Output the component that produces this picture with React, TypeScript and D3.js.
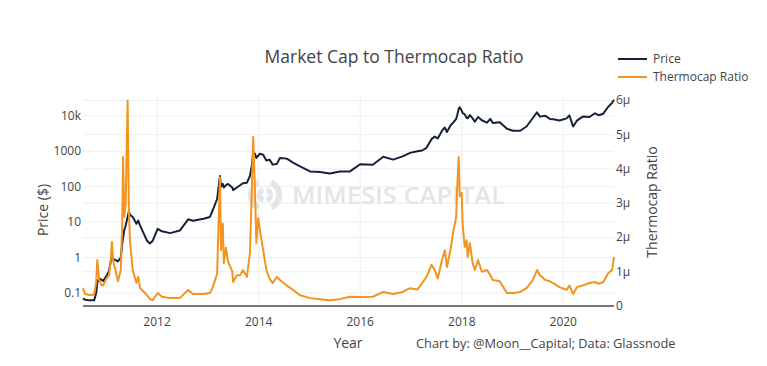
import React from 'react';
import * as d3 from 'd3';

// sample dates (irregular, denser around the spikes)
const dates = [
  '2010-07-17', '2010-08-01', '2010-09-01', '2010-10-05', '2010-10-20', '2010-10-28', '2010-11-10', '2010-11-25',
  '2010-12-10', '2011-01-01', '2011-01-20', '2011-02-01', '2011-02-10', '2011-02-20', '2011-03-10', '2011-03-25',
  '2011-04-15', '2011-04-25', '2011-05-01', '2011-05-10', '2011-05-20', '2011-06-03', '2011-06-12', '2011-06-20',
  '2011-07-10', '2011-08-05', '2011-08-18', '2011-09-01', '2011-10-20', '2011-11-10', '2011-12-01', '2012-01-05',
  '2012-02-05', '2012-04-05', '2012-06-12', '2012-08-12', '2012-09-15', '2012-11-30', '2013-01-15', '2013-02-05',
  '2013-03-08', '2013-03-28', '2013-04-05', '2013-04-18', '2013-04-25', '2013-05-10', '2013-05-25', '2013-06-25',
  '2013-07-01', '2013-07-28', '2013-08-20', '2013-09-10', '2013-10-08', '2013-10-30', '2013-11-13', '2013-11-22',
  '2013-12-05', '2013-12-15', '2013-12-28', '2014-01-10', '2014-02-02', '2014-02-25', '2014-03-20', '2014-04-12',
  '2014-05-12', '2014-06-03', '2014-07-22', '2014-09-05', '2014-10-22', '2015-01-05', '2015-03-18', '2015-05-28',
  '2015-08-08', '2015-10-20', '2016-01-01', '2016-04-01', '2016-06-15', '2016-08-25', '2016-11-01', '2016-12-25',
  '2017-02-15', '2017-03-22', '2017-04-22', '2017-05-28', '2017-06-20', '2017-07-12', '2017-08-12', '2017-09-01',
  '2017-09-16', '2017-10-15', '2017-10-30', '2017-11-22', '2017-11-28', '2017-12-10', '2017-12-17', '2017-12-31',
  '2018-01-07', '2018-01-22', '2018-02-05', '2018-02-12', '2018-02-28', '2018-03-20', '2018-04-05', '2018-04-28',
  '2018-05-25', '2018-07-01', '2018-07-25', '2018-08-12', '2018-10-01', '2018-11-22', '2019-01-05', '2019-02-25',
  '2019-04-12', '2019-05-27', '2019-06-26', '2019-07-17', '2019-08-25', '2019-09-27', '2019-10-20', '2019-12-05',
  '2020-01-25', '2020-02-14', '2020-03-12', '2020-04-08', '2020-05-20', '2020-07-08', '2020-08-15', '2020-09-12',
  '2020-10-15', '2020-11-18', '2020-12-17', '2020-12-31',
];

// BTC price, USD
const priceUsd = [
  0.07, 0.065, 0.062, 0.062, 0.1, 0.2, 0.26, 0.24,
  0.22, 0.3, 0.42, 0.75, 1.0, 0.9, 0.85, 0.78,
  1.0, 2.5, 3.5, 6, 8, 14, 20, 16,
  14, 9, 11, 8, 3, 2.5, 3, 6.5,
  5.5, 4.9, 5.8, 12, 11, 12.5, 14, 22,
  45, 200, 100, 120, 95, 110, 120, 95,
  80, 95, 110, 125, 130, 200, 400, 900,
  850, 650, 750, 850, 800, 550, 580, 420,
  440, 650, 620, 480, 380, 270, 260, 235,
  270, 270, 430, 415, 700, 580, 720, 900,
  1000, 1050, 1250, 2200, 2600, 2300, 3800, 4700,
  3500, 5600, 6300, 8200, 10000, 16000, 17500, 14000,
  12000, 11000, 8800, 8500, 10500, 8500, 6800, 9300,
  7500, 6400, 8200, 6300, 6600, 4300, 3800, 3800,
  5000, 8700, 12500, 9500, 10000, 8200, 8000, 7400,
  8500, 10300, 5000, 7300, 9500, 9300, 11800, 10400,
  11500, 17800, 23000, 28500,
];

// market cap / thermocap, in millionths (μ)
const thermocapRatio = [
  0.52, 0.35, 0.32, 0.33, 0.7, 1.34, 0.78, 0.62,
  0.6, 0.8, 0.9, 1.3, 1.87, 1.3, 1.0, 0.72,
  1.05, 2.4, 4.35, 2.6, 3.0, 6.0, 2.8, 1.9,
  1.05, 0.67, 0.85, 0.52, 0.32, 0.2, 0.17, 0.38,
  0.27, 0.23, 0.23, 0.47, 0.35, 0.35, 0.38, 0.55,
  0.95, 3.76, 1.63, 2.4, 1.25, 1.7, 1.3, 1.0,
  0.7, 0.9, 0.9, 1.05, 0.85, 1.55, 3.4, 4.93,
  3.4, 1.84, 2.57, 2.2, 1.63, 1.05, 0.8, 0.67,
  0.85, 0.76, 0.6, 0.47, 0.32, 0.23, 0.2, 0.17,
  0.2, 0.27, 0.26, 0.27, 0.41, 0.35, 0.41, 0.52,
  0.48, 0.67, 0.85, 1.2, 1.05, 0.8, 1.34, 1.63,
  1.14, 1.72, 2.13, 2.6, 3.38, 4.35, 3.2, 3.3,
  2.4, 1.72, 1.92, 1.43, 1.84, 1.25, 1.05, 1.34,
  1.0, 1.05, 0.9, 0.76, 0.72, 0.38, 0.38, 0.41,
  0.52, 0.76, 1.05, 0.9, 0.76, 0.72, 0.67, 0.55,
  0.47, 0.6, 0.35, 0.55, 0.6, 0.67, 0.7, 0.65,
  0.7, 0.95, 1.05, 1.43,
];

const priceTicks = [0.1, 1, 10, 100, 1000, 10000];
const priceTickLabels = ['0.1', '1', '10', '100', '1000', '10k'];
const ratioTicks = [0, 1, 2, 3, 4, 5, 6];
const yearTicks = [2012, 2014, 2016, 2018, 2020];

const W = 767;
const H = 366;
const m = { left: 83, right: 614, top: 97, bottom: 306 };
const font = '"Open Sans", "DejaVu Sans", sans-serif';
const priceColor = '#16213a';
const ratioColor = '#f2941f';

export default function App() {
  const parse = d3.timeParse('%Y-%m-%d');
  const t = dates.map(d => parse(d) as Date);

  const x = d3.scaleTime().domain(d3.extent(t) as [Date, Date]).range([m.left, m.right]);
  const yP = d3.scaleLog().domain([0.043, 34000]).range([m.bottom, m.top]);
  const yR = d3.scaleLinear().domain([0, 6.1]).range([m.bottom, m.top]);

  const priceLine = d3.line<number>()
    .x((_, i) => x(t[i]))
    .y(d => yP(d));
  const ratioLine = d3.line<number>()
    .x((_, i) => x(t[i]))
    .y(d => yR(d));

  const logoArc = d3.arc();

  return (
    <div style={{ position: 'absolute', left: 0, top: 0 }}>
      <svg width={W} height={H} style={{ display: 'block', background: '#fff' }} fontFamily={font}>
        {/* grid */}
        <g stroke="#eeeeee" strokeWidth={1}>
          {yearTicks.map(yr => {
            const xx = x(new Date(yr, 0, 1));
            return <line key={'v' + yr} x1={xx} x2={xx} y1={m.top} y2={m.bottom} />;
          })}
          {priceTicks.map(v => (
            <line key={'p' + v} x1={m.left} x2={m.right} y1={yP(v)} y2={yP(v)} />
          ))}
          {ratioTicks.filter(v => v > 0).map(v => (
            <line key={'r' + v} x1={m.left} x2={m.right} y1={yR(v)} y2={yR(v)} />
          ))}
        </g>

        {/* watermark */}
        <g fill="#e3e5e9">
          <path transform="translate(265,195)" d={logoArc({ innerRadius: 11, outerRadius: 17, startAngle: Math.PI * 0.15, endAngle: Math.PI * 0.85 }) || ''} />
          <path transform="translate(265,195)" d={logoArc({ innerRadius: 11, outerRadius: 17, startAngle: Math.PI * 1.15, endAngle: Math.PI * 1.85 }) || ''} />
          <path transform="translate(265,195)" d={logoArc({ innerRadius: 3, outerRadius: 8, startAngle: Math.PI * 1.1, endAngle: Math.PI * 1.9 }) || ''} />
          <path transform="translate(265,195)" d={logoArc({ innerRadius: 3, outerRadius: 8, startAngle: Math.PI * 0.1, endAngle: Math.PI * 0.9 }) || ''} />
          <text x={292} y={204} fontSize={24} fontWeight={600} textLength={213} lengthAdjust="spacingAndGlyphs">MIMESIS CAPITAL</text>
        </g>

        {/* bottom axis line */}
        <line x1={m.left} x2={m.right} y1={m.bottom} y2={m.bottom} stroke="#777" strokeWidth={2} />

        {/* series */}
        <path d={priceLine(priceUsd) || ''} fill="none" stroke={priceColor} strokeWidth={2} strokeLinejoin="round" />
        <path d={ratioLine(thermocapRatio) || ''} fill="none" stroke={ratioColor} strokeWidth={2} strokeLinejoin="round" />

        {/* tick labels */}
        <g fontSize={12} fill="#444">
          {priceTicks.map((v, i) => (
            <text key={'pl' + v} x={81} y={yP(v) + 4} textAnchor="end">{priceTickLabels[i]}</text>
          ))}
          {ratioTicks.map(v => (
            <text key={'rl' + v} x={616} y={yR(v) + 4}>{v === 0 ? '0' : `${v}μ`}</text>
          ))}
          {yearTicks.map(yr => (
            <text key={'yl' + yr} x={x(new Date(yr, 0, 1))} y={326} textAnchor="middle">{yr}</text>
          ))}
        </g>

        <text x={394} y={63} textAnchor="middle" fontSize={17.5} fill="#444">Market Cap to Thermocap Ratio</text>
        <text transform="translate(48,210) rotate(-90)" textAnchor="middle" fontSize={14} fill="#444">Price ($)</text>
        <text transform="translate(657,202) rotate(-90)" textAnchor="middle" fontSize={14} fill="#444">Thermocap Ratio</text>
        <text x={348} y={348} textAnchor="middle" fontSize={14} fill="#444">Year</text>
        <text x={416} y={348} fontSize={12.8} fill="#444">Chart by: @Moon__Capital; Data: Glassnode</text>

        {/* legend */}
        <g fontSize={12} fill="#444">
          <line x1={618} x2={647} y1={59} y2={59} stroke={priceColor} strokeWidth={2} />
          <text x={653} y={63}>Price</text>
          <line x1={618} x2={647} y1={77} y2={77} stroke={ratioColor} strokeWidth={2} />
          <text x={653} y={81}>Thermocap Ratio</text>
        </g>
      </svg>
    </div>
  );
}
